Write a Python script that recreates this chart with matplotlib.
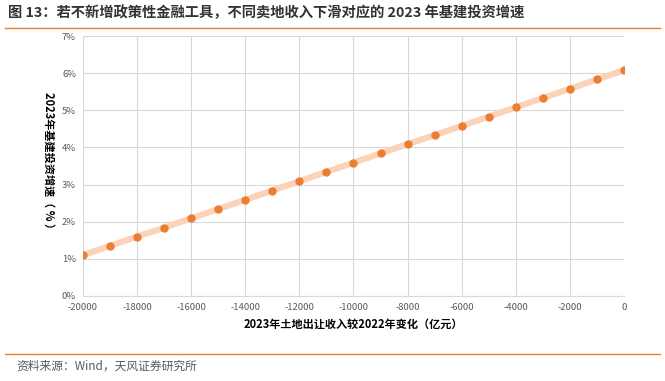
import matplotlib.pyplot as plt
from matplotlib.ticker import FuncFormatter, MultipleLocator
from matplotlib.lines import Line2D

plt.rcParams["font.family"] = ["Noto Sans CJK SC", "DejaVu Sans"]

# 2023年土地出让收入较2022年变化（亿元）
land_change = [-20000, -19000, -18000, -17000, -16000, -15000, -14000, -13000, -12000, -11000,
               -10000, -9000, -8000, -7000, -6000, -5000, -4000, -3000, -2000, -1000, 0]
# 2023年基建投资增速（%）
infra_growth = [1.10, 1.35, 1.60, 1.84, 2.09, 2.34, 2.59, 2.84, 3.09, 3.34,
                3.59, 3.84, 4.09, 4.33, 4.58, 4.83, 5.08, 5.33, 5.58, 5.83, 6.08]

title = "图 13：若不新增政策性金融工具，不同卖地收入下滑对应的 2023 年基建投资增速"
source = "资料来源：Wind，天风证券研究所"

fig = plt.figure(figsize=(6.65, 3.81), dpi=100)
ax = fig.add_axes([0.1248, 0.2231, 0.8135, 0.6824])

ax.plot(land_change, infra_growth, color="#FAD3B8", linewidth=4.5, solid_capstyle="butt", zorder=2)
ax.plot(land_change, infra_growth, linestyle="none", marker="o", markersize=5,
        color="#ED7D31", markeredgecolor="#ED7D31", zorder=3)

ax.set_xlim(-20000, 0)
ax.set_ylim(0, 7)
ax.xaxis.set_major_locator(MultipleLocator(2000))
ax.yaxis.set_major_locator(MultipleLocator(1))
ax.yaxis.set_major_formatter(FuncFormatter(lambda v, p: f"{v:.0f}%"))
ax.xaxis.set_major_formatter(FuncFormatter(lambda v, p: f"{v:.0f}"))
ax.grid(True, color="#D9D9D9", linewidth=0.8)
ax.set_axisbelow(True)
for s in ["top", "right", "left"]:
    ax.spines[s].set_visible(False)
ax.spines["bottom"].set_color("#D9D9D9")
ax.tick_params(length=0, labelsize=6.8, colors="#595959", pad=5)

ax.set_xlabel("2023年土地出让收入较2022年变化（亿元）", fontsize=8, fontweight="bold", labelpad=4)
ax.set_ylabel("2023年基建投资增速（ % ）", fontsize=8, fontweight="bold", rotation=270,
              va="center")
ax.yaxis.set_label_coords(-0.063, 0.51)

fig.text(0.012, 0.967, title, fontsize=10.3, color="#333333", fontweight="bold", va="center", ha="left")
fig.add_artist(Line2D([0.008, 0.993], [0.927, 0.927], color="#ED7D31", linewidth=1.0))
fig.add_artist(Line2D([0.008, 0.993], [0.071, 0.071], color="#ED7D31", linewidth=1.0))
fig.text(0.024, 0.038, source, fontsize=8.5, color="#595959", va="center", ha="left")

fig.savefig("out.png", dpi=100)
